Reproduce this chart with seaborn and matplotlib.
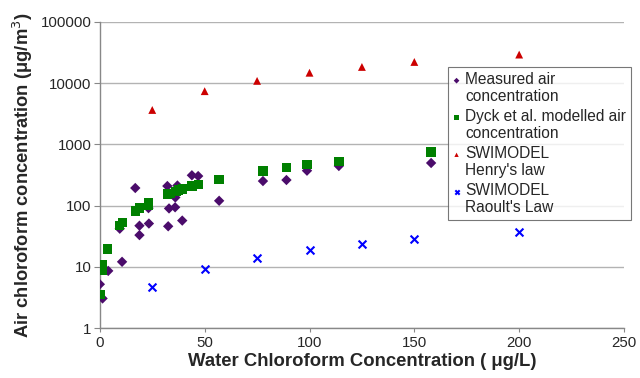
import matplotlib
matplotlib.use("Agg")

import matplotlib.pyplot as plt
import matplotlib.ticker as mticker
import pandas as pd
import seaborn as sns

# ─── DATA ────────────────────────────────────────────────────────
meas_x = [0, 1.3, 4, 10.6, 9.5, 16.9, 18.9, 18.9, 23.2, 23.4, 32.2, 33, 32.6,
          36, 35.9, 37, 39.3, 43.9, 46.9, 56.9, 77.8, 89, 98.8, 114, 158]
meas_y = [5.2, 3.05, 8.6, 12.1, 42, 194, 47, 33, 91, 51, 209, 90, 46,
          136, 94, 213, 57, 313, 304, 120, 252, 262, 372, 444, 497]

dyck_x = [0.3, 1.4, 1.4, 3.7, 9.5, 10.8, 17, 19, 23.2, 23.2, 32.4, 33.4,
          36.3, 37.4, 39.4, 44, 46.9, 56.9, 77.8, 89, 98.8, 114, 158]
dyck_y = [3.55, 8.9, 10.7, 19.5, 47, 53, 82, 92, 100, 111, 155, 157,
          171, 180, 187, 209, 223, 270, 367, 422, 465, 527, 751]

model_x = [25, 50, 75, 100, 125, 150, 200]
henry_y = [3650, 7400, 10900, 14800, 18400, 22200, 29300]
raoult_y = [4.7, 9.4, 14.1, 18.8, 23.5, 28.5, 37.5]

# ─── STYLE ───────────────────────────────────────────────────────
sns.set_style("white")
plt.rcParams["font.family"] = ["Liberation Sans", "DejaVu Sans"]
GRID = "#b3b3b3"

fig = plt.figure(figsize=(6.4, 3.78), dpi=100)
ax = fig.add_axes([0.156, 0.132, 0.819, 0.81])

series = [
    ("Measured air\nconcentration", meas_x, meas_y,
     dict(marker="D", color="#4b0c6b", s=28, edgecolor="none")),
    ("Dyck et al. modelled air\nconcentration", dyck_x, dyck_y,
     dict(marker="s", color="#008000", s=45, edgecolor="none")),
    ("SWIMODEL\nHenry's law", model_x, henry_y,
     dict(marker="^", color="#cc0000", s=32, edgecolor="none")),
    ("SWIMODEL\nRaoult's Law", model_x, raoult_y,
     dict(marker="x", color="#0000ff", s=32, linewidth=1.5)),
]
for label, xs, ys, kw in series:
    df = pd.DataFrame({"x": xs, "y": ys})
    sns.scatterplot(data=df, x="x", y="y", label=label, ax=ax, zorder=3, **kw)

ax.set_yscale("log")
ax.set_ylim(1, 100000)
ax.set_xlim(0, 250)
ax.xaxis.set_major_locator(mticker.MultipleLocator(50))
ax.yaxis.set_major_locator(mticker.LogLocator(base=10, numticks=10))
ax.yaxis.set_minor_locator(mticker.NullLocator())
ax.yaxis.set_major_formatter(mticker.FuncFormatter(lambda v, p: f"{v:.0f}"))

ax.grid(True, axis="y", color=GRID, linewidth=1)
ax.grid(False, axis="x")
for side in ["top", "right"]:
    ax.spines[side].set_visible(False)
for side in ["left", "bottom"]:
    ax.spines[side].set_color("#888888")
    ax.spines[side].set_linewidth(1)
ax.tick_params(axis="y", which="major", left=True, length=4, color="#888888",
               labelsize=10.8, pad=2)
ax.tick_params(axis="x", which="major", bottom=True, length=3, color="#888888",
               labelsize=10.8, pad=3)

ax.set_xlabel("Water Chloroform Concentration ( μg/L)", fontsize=13.3,
              fontweight="bold", labelpad=2)
ax.set_ylabel("Air chloroform concentration (μg/m$^3$)", fontsize=13.2,
              fontweight="bold", labelpad=4)

leg = ax.legend(loc="upper left", bbox_to_anchor=(0.70, 0.823),
                bbox_transform=fig.transFigure, frameon=True, fancybox=False,
                fontsize=11.2, markerscale=0.55, handlelength=0.5,
                handletextpad=0.3, borderpad=0.3, labelspacing=0.3,
                borderaxespad=0)
leg.get_frame().set_edgecolor("#555555")
leg.get_frame().set_linewidth(0.8)
leg.set_zorder(5)
# put each legend marker beside the first text line, as in the original
for h in leg.legend_handles:
    h.set_offsets(h.get_offsets() + [0, 6.5])

fig.savefig("out.png", dpi=100, facecolor="white")
